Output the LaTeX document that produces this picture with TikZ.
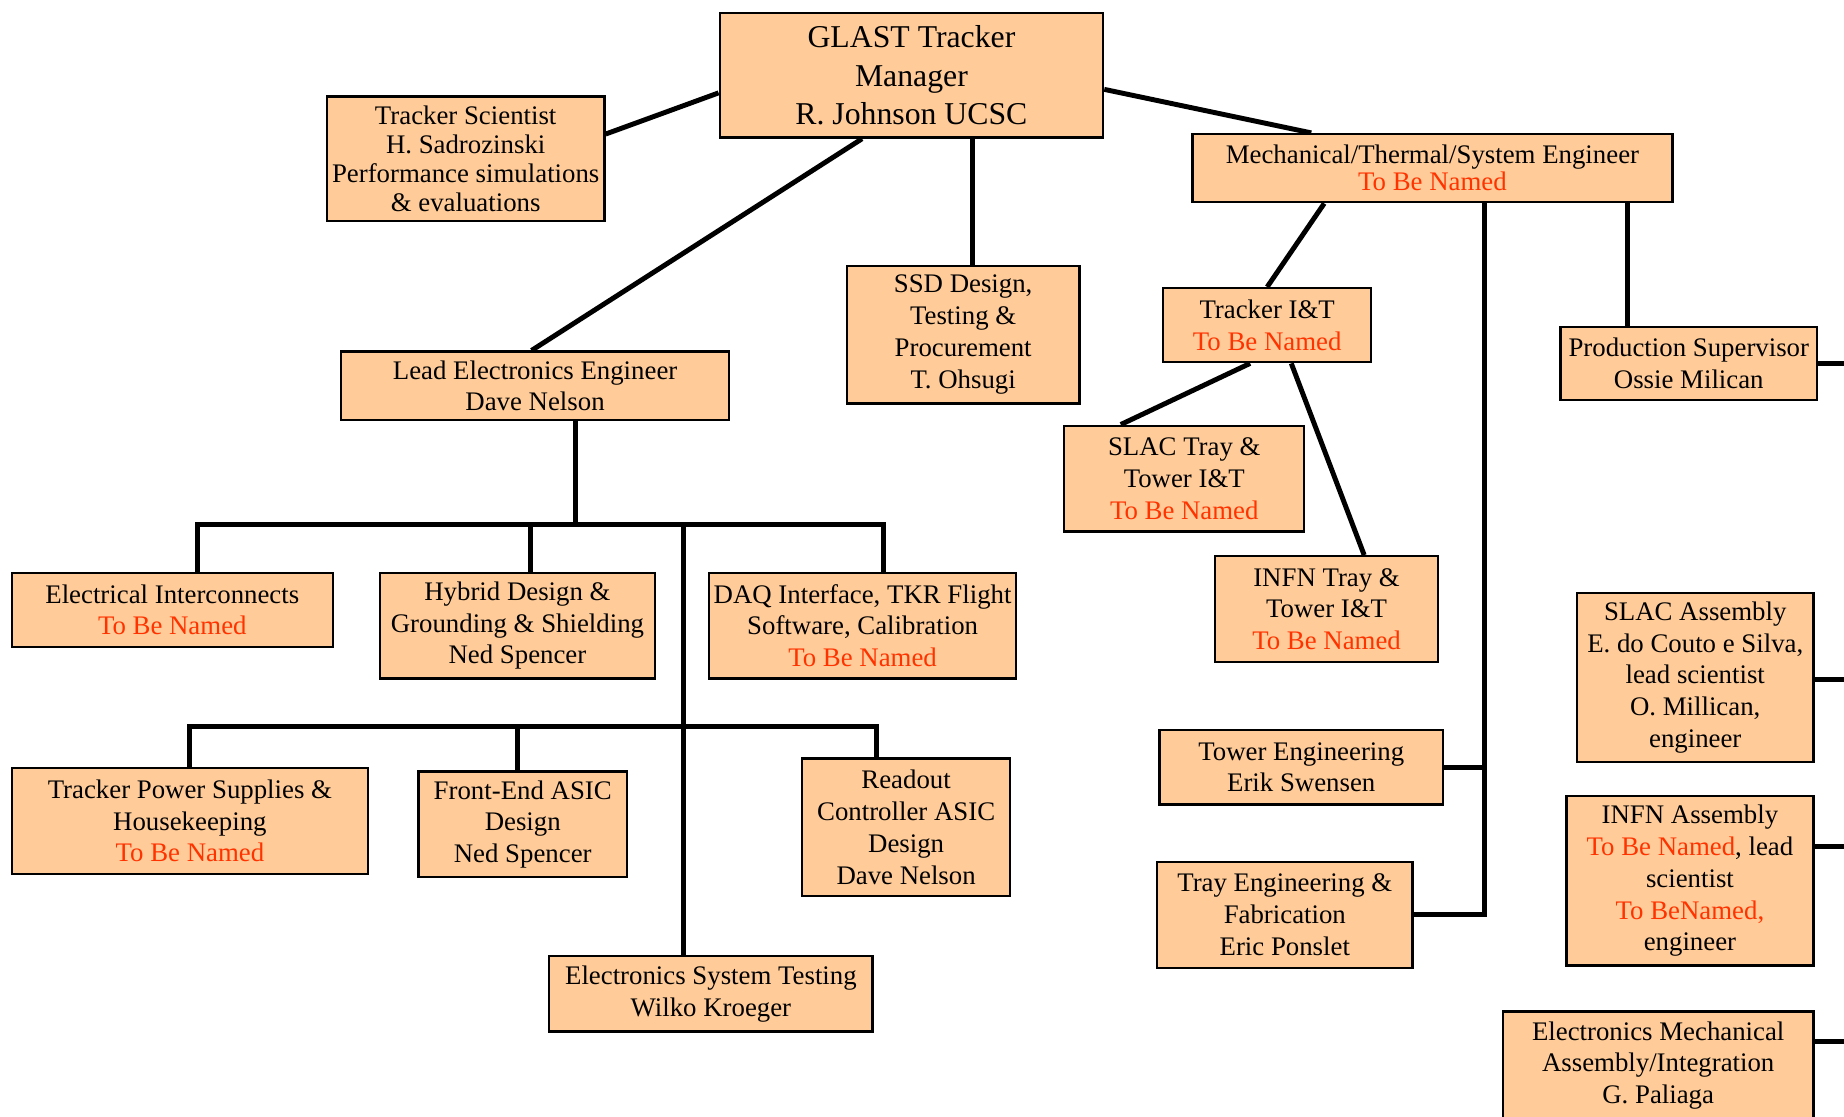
\documentclass[tikz,border=0pt]{standalone}
\usepackage{fontspec}
\setmainfont{Liberation Serif}
\usetikzlibrary{calc}
\definecolor{peach}{HTML}{FFCC99}
\definecolor{tbncol}{HTML}{FF3300}
\newcommand{\tbn}[1]{\textcolor{tbncol}{#1}}
\pgfdeclarelayer{background}
\pgfsetlayers{background,main}
\begin{document}
\begin{tikzpicture}[x=1pt,y=-1pt,
  box/.style={draw=black, line width=2pt, fill=peach, align=center, inner sep=0pt,
    font=\fontsize{22.8}{27}\selectfont},
  link/.style={draw=black, line width=4.2pt}]
\path[use as bounding box] (0,0) rectangle (1568,949);
\clip (0,0) rectangle (1568,949);

% top level
\node[box, minimum width=326, minimum height=106, font=\fontsize{27}{33}\selectfont] (glast) at (775,64)
  {GLAST Tracker\\Manager\\R. Johnson UCSC};
\node[box, minimum width=236, minimum height=106, font=\fontsize{22.8}{24.5}\selectfont] (sci) at (396,135)
  {Tracker Scientist\\H. Sadrozinski\\Performance simulations\\\& evaluations};
\node[box, minimum width=408, minimum height=58, font=\fontsize{22.8}{23}\selectfont] (mech) at (1218,143)
  {Mechanical/Thermal/System Engineer\\\tbn{To Be Named}};
\node[box, minimum width=198, minimum height=117] (ssd) at (819,284.5)
  {SSD Design,\\Testing \&\\Procurement\\T. Ohsugi};
\node[box, minimum width=330, minimum height=58] (lead) at (455,328)
  {Lead Electronics Engineer\\Dave Nelson};

% mechanical branch
\node[box, minimum width=177, minimum height=63] (tit) at (1077.5,276.5)
  {Tracker I\&T\\\tbn{To Be Named}};
\node[box, minimum width=218, minimum height=62] (prod) at (1436,309)
  {Production Supervisor\\Ossie Milican};
\node[box, minimum width=204, minimum height=90] (slactray) at (1007,407)
  {SLAC Tray \&\\Tower I\&T\\\tbn{To Be Named}};
\node[box, minimum width=190, minimum height=90] (infntray) at (1128,518)
  {INFN Tray \&\\Tower I\&T\\\tbn{To Be Named}};
\node[box, minimum width=201, minimum height=144] (slacasm) at (1441.5,576)
  {SLAC Assembly\\E. do Couto e Silva,\\lead scientist\\O. Millican,\\engineer};
\node[box, minimum width=241, minimum height=63] (tower) at (1106.5,652.5)
  {Tower Engineering\\Erik Swensen};
\node[box, minimum width=210, minimum height=144] (infnasm) at (1437,749)
  {INFN Assembly\\\tbn{To Be Named}, lead\\scientist\\\tbn{To BeNamed,}\\engineer};
\node[box, minimum width=217, minimum height=90] (tray) at (1092.5,778)
  {Tray Engineering \&\\Fabrication\\Eric Ponslet};
\node[box, minimum width=264, minimum height=122, anchor=north] (emech) at (1410,859)
  {Electronics Mechanical\\Assembly/Integration\\G. Paliaga\\\strut};

% electronics branch
\node[box, minimum width=273, minimum height=63] (elec) at (146.5,518.5)
  {Electrical Interconnects\\\tbn{To Be Named}};
\node[box, minimum width=234, minimum height=90] (hybrid) at (440,532)
  {Hybrid Design \&\\Grounding \& Shielding\\Ned Spencer};
\node[box, minimum width=261, minimum height=90] (daq) at (733.5,532)
  {DAQ Interface, TKR Flight\\Software, Calibration\\\tbn{To Be Named}};
\node[box, minimum width=303, minimum height=90] (power) at (161.5,698)
  {Tracker Power Supplies \&\\Housekeeping\\\tbn{To Be Named}};
\node[box, minimum width=177, minimum height=90] (fe) at (444.5,701)
  {Front-End ASIC\\Design\\Ned Spencer};
\node[box, minimum width=177, minimum height=117] (roc) at (770.5,703.5)
  {Readout\\Controller ASIC\\Design\\Dave Nelson};
\node[box, minimum width=275, minimum height=64] (est) at (604.5,845)
  {Electronics System Testing\\Wilko Kroeger};

% helper coordinates
\coordinate (b1R) at (751,446);
\coordinate (j1) at (581,446);
\coordinate (b2R) at (745,618);
\coordinate (mv) at ([xshift=44pt]mech.south);
\coordinate (edge) at (1600,0);

\begin{pgfonlayer}{background}
% top level links
\draw[link] ([yshift=-15pt]glast.west) -- ([yshift=21pt]sci.east);
\draw[link] ([yshift=-12pt]glast.east) -- ([xshift=-103pt]mech.north);
\draw[link] ([xshift=-42pt]glast.south) -- ([xshift=-3pt]lead.north);
\draw[link] ([xshift=52pt]glast.south) -- ([xshift=52pt]glast.south |- ssd.north);

% mechanical links
\draw[link] ([xshift=-92pt]mech.south) -- (tit.north);
\draw[link] (mv) |- (tray.east);
\draw[link] (tower.east) -- (tower.east -| mv);
\draw[link] ([xshift=-52pt]prod.north) -- ([xshift=-52pt]prod.north |- mech.south);
\draw[link] ([xshift=-14.5pt]tit.south) -- ([xshift=-54pt]slactray.north);
\draw[link] ([xshift=20.5pt]tit.south) -- ([xshift=32pt]infntray.north);
\draw[link] (prod.east) -- (prod.east -| edge);
\draw[link] ([yshift=-2pt]slacasm.east) -- ([yshift=-2pt]slacasm.east -| edge);
\draw[link] ([yshift=29pt]infnasm.east) -- ([yshift=29pt]infnasm.east -| edge);
\draw[link] ([yshift=-27pt]emech.north east) -- ([yshift=-27pt]emech.north east -| edge);

% electronics links
\draw[link] ([xshift=34pt]lead.south) -- ([xshift=34pt]lead.south |- b1R);
\draw[link] ([xshift=21.5pt]elec.north) |- (b1R) -- ([xshift=17.5pt]daq.north);
\draw[link] ([xshift=11pt]hybrid.north) -- ([xshift=11pt]hybrid.north |- b1R);
\draw[link] (j1) -- ([xshift=-23.5pt]est.north);
\draw[link] (power.north) |- (b2R) -- ([xshift=-25.5pt]roc.north);
\draw[link] ([xshift=-4.5pt]fe.north) -- ([xshift=-4.5pt]fe.north |- b2R);
\end{pgfonlayer}
\end{tikzpicture}
\end{document}
